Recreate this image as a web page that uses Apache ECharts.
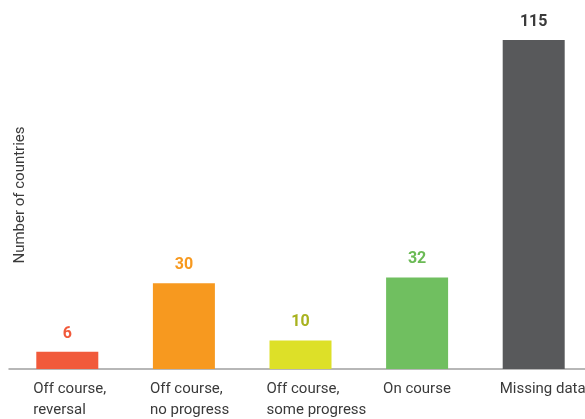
<!DOCTYPE html>
<html><head><meta charset="utf-8">
<script src="https://cdn.jsdelivr.net/npm/echarts@6/dist/echarts.min.js"></script>
<style>html,body{margin:0;padding:0;background:#fff;overflow:hidden;width:585px;height:419px}#c{width:592px;height:419px}</style>
</head><body><div id="c"></div>
<script>
const categories = ['Off course,\nreversal', 'Off course,\nno progress', 'Off course,\nsome progress', 'On course', 'Missing data'];
const values = [6, 30, 10, 32, 115];
const barColors = ['#F15A3B', '#F7991F', '#DDE028', '#70BF60', '#58595B'];
const labelColors = ['#F15A3B', '#F7991F', '#A8B21E', '#6BBA55', '#3A3A3A'];
const yAxisName = 'Number of countries';
const FONT = 'Roboto, sans-serif';

const chart = echarts.init(document.getElementById('c'));
chart.setOption({
  animation: false,
  grid: { left: 9, right: 0, top: 40, bottom: 50, containLabel: false },
  xAxis: {
    type: 'category',
    data: categories,
    axisLine: { lineStyle: { color: '#A0A0A0', width: 1.5 } },
    axisTick: { show: false },
    axisLabel: {
      interval: 0,
      margin: 10,
      formatter: v => v.split('\n').map(s => '{a|' + s + '}').join('\n'),
      rich: { a: { width: 68, align: 'left', fontSize: 15, lineHeight: 21, color: '#3A3A3A', fontFamily: FONT } }
    }
  },
  yAxis: {
    type: 'value', min: 0, max: 115,
    axisLine: { show: false }, axisTick: { show: false }, axisLabel: { show: false },
    splitLine: { show: false }
  },
  graphic: [{
    type: 'text',
    rotation: Math.PI / 2,
    x: 20, y: 195,
    style: { text: yAxisName, fontSize: 15, fill: '#3A3A3A', fontFamily: FONT, align: 'center', verticalAlign: 'middle' }
  }],
  series: [{
    type: 'bar',
    data: values.map((v, i) => ({ value: v, itemStyle: { color: barColors[i] },
      label: { color: labelColors[i] } })),
    barWidth: 62,
    label: { show: true, position: 'top', distance: 10, fontSize: 16, fontWeight: 'bold', fontFamily: FONT }
  }]
});
</script></body></html>
